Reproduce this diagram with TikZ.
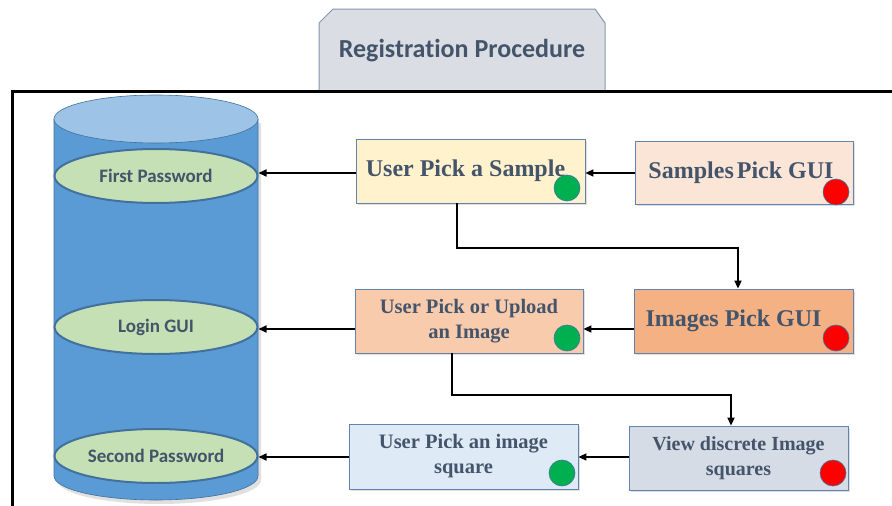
\documentclass[tikz,border=0pt]{standalone}
\usepackage{fontspec}
\setmainfont{Liberation Serif}
\newfontfamily\calibri[Ligatures=NoCommon]{Carlito}
\usetikzlibrary{arrows.meta,shapes.geometric,shadows}

\definecolor{txt}{HTML}{44546A}
\definecolor{edge}{HTML}{6383AE}
\definecolor{tabedge}{HTML}{8497B0}
\definecolor{tabfill}{HTML}{DADEE4}
\definecolor{dbline}{HTML}{41719C}
\definecolor{dbbody}{HTML}{5B9BD5}
\definecolor{dbtop}{HTML}{9DC3E6}
\definecolor{slot}{HTML}{C5E0B4}
\definecolor{okdot}{HTML}{00B050}
\definecolor{nodot}{HTML}{FF0000}
\definecolor{fillA}{HTML}{FFF2CC}
\definecolor{fillB}{HTML}{FBE5D6}
\definecolor{fillC}{HTML}{F8CBAD}
\definecolor{fillD}{HTML}{F4B183}
\definecolor{fillE}{HTML}{DEEBF7}
\definecolor{fillF}{HTML}{D6DCE5}

\tikzset{
  stepbox/.style={draw=edge, line width=0.8pt, rectangle, align=center,
    font=\bfseries\fontsize{20.5}{25}\selectfont, text=txt,
    drop shadow={opacity=0.25, shadow xshift=2pt, shadow yshift=-2pt}},
  bigtext/.style={font=\bfseries\fontsize{24}{28}\selectfont},
  slotell/.style={ellipse, draw=dbline, line width=2pt, fill=slot,
    minimum width=203pt, minimum height=54pt, inner sep=0pt,
    font=\calibri\bfseries\fontsize{19}{22}\selectfont, text=txt},
  dot/.style={circle, draw=dbline, line width=0.6pt, minimum size=26pt, inner sep=0pt},
  flow/.style={line width=1.6pt, -{Triangle[length=8pt,width=7pt]}}
}

\begin{document}
\begin{tikzpicture}[x=1pt, y=-1pt]
  \useasboundingbox (0,0) rectangle (892,506);

  % title tab
  \draw[draw=tabedge, fill=tabfill, line width=1pt]
    (319,92) -- (319,23) -- (333,9) -- (595,9) -- (605,23) -- (605,92);
  \node[font=\calibri\bfseries\fontsize{26}{30}\selectfont, text=txt] (title) at (462,51) {Registration Procedure};

  % outer frame
  \draw[line width=3pt] (892,91) -- (12,91) -- (12,506);

  % database cylinder
  \fill[black, opacity=0.12] (57,123) -- (57,480)
     arc[start angle=180, end angle=360, x radius=102pt, y radius=24pt] -- (261,123) -- cycle;
  \draw[draw=dbline, line width=0.6pt, fill=dbbody] (54,119) -- (54,476)
     arc[start angle=180, end angle=360, x radius=102pt, y radius=24pt] -- (258,119) -- cycle;
  \draw[draw=dbline, line width=0.6pt, fill=dbtop] (156,119) ellipse[x radius=102pt, y radius=24pt];

  \node[slotell] (fp) at (156,176) {First Password};
  \node[slotell] (lg) at (156,327) {Login GUI};
  \node[slotell] (sp) at (156,456) {Second Password};

  % step boxes
  \node[stepbox, bigtext, fill=fillA, minimum width=229pt, minimum height=64pt] (ups) at (470.5,171)
        {User Pick a Sample\hspace*{10pt}};
  \node[stepbox, bigtext, fill=fillB, minimum width=218pt, minimum height=63pt] (spg) at (744,172.5)
        {Samples\hspace{3pt}Pick GUI\hspace*{6pt}};
  \node[stepbox, fill=fillC, minimum width=228pt, minimum height=64pt] (upu) at (469,321)
        {User Pick or Upload\\an Image};
  \node[stepbox, bigtext, fill=fillD, minimum width=219pt, minimum height=64pt] (ipg) at (743.5,321)
        {Images Pick GUI\hspace*{20pt}};
  \node[stepbox, fill=fillE, minimum width=229pt, minimum height=65pt] (upi) at (463.5,456.5)
        {User Pick an image\\square};
  \node[stepbox, fill=fillF, minimum width=219pt, minimum height=64pt,
        font=\bfseries\fontsize{20}{25}\selectfont] (vdi) at (738.5,458) {View discrete Image\\squares};

  % status dots
  \node[dot, fill=okdot] (d1) at (567,188) {};
  \node[dot, fill=nodot] (d2) at (836,192) {};
  \node[dot, fill=okdot] (d3) at (567,338) {};
  \node[dot, fill=nodot] (d4) at (836,338) {};
  \node[dot, fill=okdot] (d5) at (562,473) {};
  \node[dot, fill=nodot] (d6) at (833,473) {};

  % connectors
  \coordinate (r1) at (0,173);
  \coordinate (r2) at (0,329);
  \coordinate (r3) at (0,457);
  \draw[flow] (spg.west |- r1) -- (ups.east |- r1);
  \draw[flow] (ups.west |- r1) -- (fp.east |- r1);
  \draw[flow] (ipg.west |- r2) -- (upu.east |- r2);
  \draw[flow] (upu.west |- r2) -- (lg.east |- r2);
  \draw[flow] (vdi.west |- r3) -- (upi.east |- r3);
  \draw[flow] (upi.west |- r3) -- (sp.east |- r3);

  \coordinate (e1) at (457,248);
  \coordinate (e2) at (738,248);
  \draw[flow] (ups.south -| e1) -- (e1) -- (e2) -- (ipg.north -| e2);
  \coordinate (e3) at (452,395);
  \coordinate (e4) at (731,395);
  \draw[flow] (upu.south -| e3) -- (e3) -- (e4) -- (vdi.north -| e4);
\end{tikzpicture}
\end{document}
